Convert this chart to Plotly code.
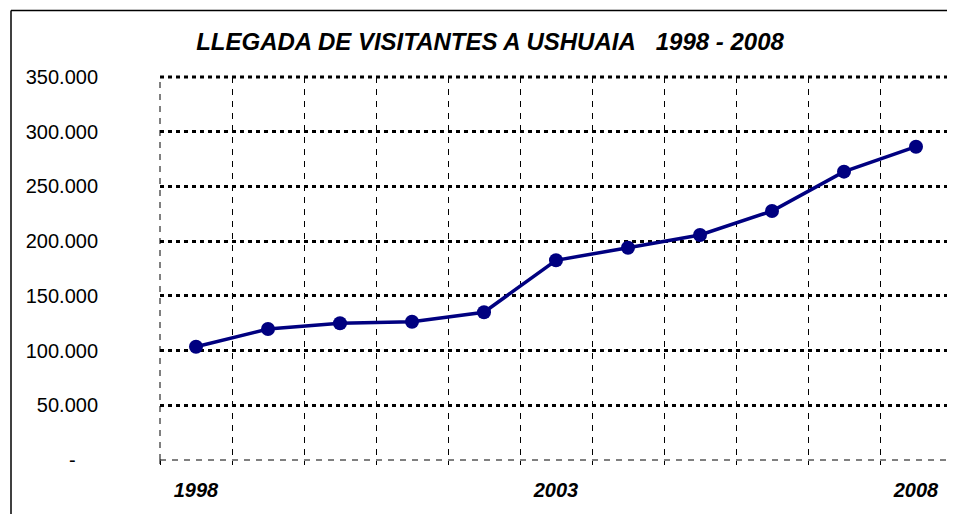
import plotly.graph_objects as go

# ---- data ----
years = [1998, 1999, 2000, 2001, 2002, 2003, 2004, 2005, 2006, 2007, 2008]
visitantes = [103500, 119700, 124900, 126400, 135000, 182500, 194000, 205600, 227500, 263500, 286300]
y_tickvals = [0, 50000, 100000, 150000, 200000, 250000, 300000, 350000]
NB = "\u00a0"
y_ticktext = ["-" + NB * 4, "50.000", "100.000", "150.000", "200.000", "250.000", "300.000", "350.000"]
x_label_years = [1998, 2003, 2008]
title_text = "LLEGADA DE VISITANTES A USHUAIA" + NB * 3 + "1998 - 2008"

# page body has an 8px margin -> figure is drawn 8px right/down
OFF = 8
W, H = 955 - OFF, 514 - OFF
L, R, T, B = 160 - OFF, 3, 77 - OFF, 54
pw, ph = W - L - R, H - T - B

x_bounds = [y - 0.5 for y in years] + [years[-1] + 0.5]
x_lo, x_hi = x_bounds[0], x_bounds[-1]
y_top = y_tickvals[-1]

fig = go.Figure()
fig.add_trace(go.Scatter(
    x=years, y=visitantes, mode="lines+markers",
    line=dict(color="#000080", width=3.5),
    marker=dict(color="#000080", size=14),
    showlegend=False, hoverinfo="skip",
))

font_family = "Liberation Sans, Arial, sans-serif"
vdash = dict(color="black", width=1, dash="6px,6px")
hdot = dict(color="black", width=3, dash="4px,4px")

shapes = [
    # dashed baseline
    dict(type="line", xref="paper", yref="paper", x0=0, x1=1, y0=0, y1=0, line=vdash, layer="below"),
    # top dotted gridline
    dict(type="line", xref="paper", yref="paper", x0=0, x1=1, y0=1, y1=1, line=hdot, layer="below"),
    # left / right dashed gridlines
    dict(type="line", xref="paper", yref="paper", x0=0, x1=0, y0=0, y1=1, line=vdash, layer="below"),
    dict(type="line", xref="paper", yref="paper", x0=1, x1=1, y0=0, y1=1, line=vdash, layer="below"),
    # edge tick marks
    dict(type="line", xref="paper", yref="paper", x0=0, x1=0, y0=0, y1=-4 / ph, line=dict(color="black", width=1)),
    dict(type="line", xref="paper", yref="paper", x0=1, x1=1, y0=0, y1=-4 / ph, line=dict(color="black", width=1)),
    # outer frame (left + top)
    dict(type="line", xref="paper", yref="paper",
         x0=(3 - L) / pw, x1=(3 - L) / pw, y0=-B / ph - 0.02, y1=(H - B - 2.5) / ph,
         line=dict(color="black", width=1.5)),
    dict(type="line", xref="paper", yref="paper",
         x0=(3 - L) / pw, x1=(W - L) / pw + 0.02, y0=(H - B - 2.5) / ph, y1=(H - B - 2.5) / ph,
         line=dict(color="black", width=1.5)),
]

fig.update_layout(
    width=W, height=H,
    margin=dict(l=L, r=R, t=T, b=B),
    paper_bgcolor="white", plot_bgcolor="white",
    title=dict(
        text="<b><i>" + title_text + "</i></b>",
        x=(490 - OFF) / W, xref="container", xanchor="center",
        y=1 - (41.5 - OFF) / H, yref="container", yanchor="middle",
        font=dict(family=font_family, size=24, color="black"),
    ),
    xaxis=dict(
        range=[x_lo, x_hi],
        tickmode="array",
        tickvals=x_label_years,
        ticktext=["<b><i>%d</i></b>" % y for y in x_label_years],
        ticks="", showgrid=False, zeroline=False, showline=False,
        tickfont=dict(family=font_family, size=20, color="black"),
        ticklabelstandoff=16,
        minor=dict(
            tickmode="array", tickvals=x_bounds,
            showgrid=True, gridcolor="black", gridwidth=1, griddash="6px,6px",
            ticks="outside", ticklen=4, tickcolor="black", tickwidth=1,
        ),
        fixedrange=True,
    ),
    yaxis=dict(
        range=[0, y_top],
        tickmode="array", tickvals=y_tickvals, ticktext=y_ticktext,
        ticks="", showgrid=False, zeroline=False, showline=False,
        tickfont=dict(family=font_family, size=20, color="black"),
        ticklabelstandoff=61,
        minor=dict(
            tickmode="array", tickvals=y_tickvals[1:],
            showgrid=True, gridcolor="black", gridwidth=3, griddash="4px,4px",
            ticks="",
        ),
        fixedrange=True,
    ),
    shapes=shapes,
)

fig.write_html("out.html")
